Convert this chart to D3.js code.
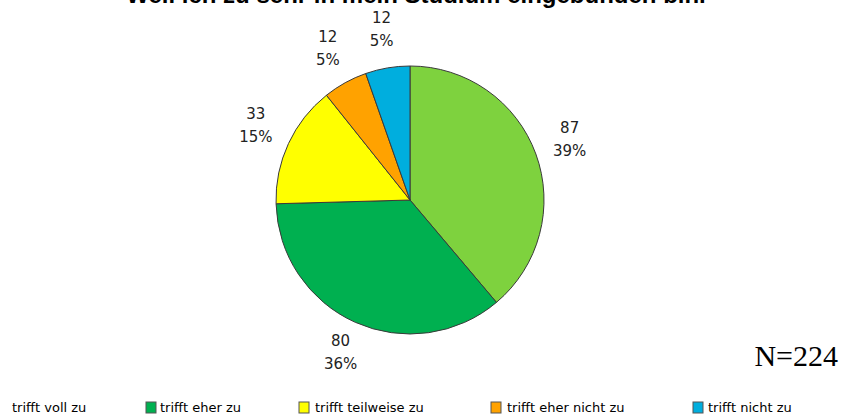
<!DOCTYPE html>
<html>
<head>
<meta charset="utf-8">
<script src="https://cdn.jsdelivr.net/npm/d3@7"></script>
<style>
  html, body { margin: 0; padding: 0; background: #fff; }
  svg { display: block; }
</style>
</head>
<body>
<svg id="chart" width="843" height="417"></svg>
<script>
const title = "Weil ich zu sehr in mein Studium eingebunden bin.";
const categories = ["trifft voll zu", "trifft eher zu", "trifft teilweise zu", "trifft eher nicht zu", "trifft nicht zu"];
const values = [87, 80, 33, 12, 12];
const colors = ["#7ED23E", "#00B050", "#FFFF00", "#FFA200", "#00AEDE"];
const sampleLabel = "N=224";

const svg = d3.select("#chart");
const cx = 410, cy = 200, R = 134;
const total = d3.sum(values);

// Title (cropped at top, as in the reference)
svg.append("text")
  .attr("x", 416).attr("y", 3)
  .attr("text-anchor", "middle")
  .attr("font-family", "Liberation Sans, Arial, sans-serif")
  .attr("font-weight", "bold")
  .attr("font-size", 24)
  .attr("fill", "#000")
  .text(title);

const data = categories.map((c, i) => ({ cat: c, value: values[i], color: colors[i] }));
const pie = d3.pie().sort(null).value(d => d.value).startAngle(0).endAngle(2 * Math.PI);
const arcs = pie(data);
const arc = d3.arc().innerRadius(0).outerRadius(R);
const labelArc = d3.arc().innerRadius(170).outerRadius(170);

const g = svg.append("g").attr("transform", `translate(${cx},${cy})`);
g.selectAll("path.slice").data(arcs).enter().append("path")
  .attr("class", "slice")
  .attr("d", arc)
  .attr("fill", d => d.data.color)
  .attr("stroke", "#3a3a3a")
  .attr("stroke-width", 1);

const pct = d3.format(".0%");
const lab = g.selectAll("g.lab").data(arcs).enter().append("g")
  .attr("class", "lab")
  .attr("transform", d => { const c = labelArc.centroid(d); return `translate(${c[0]},${c[1]})`; })
  .attr("font-family", "DejaVu Sans, Verdana, sans-serif")
  .attr("font-size", 15)
  .attr("fill", "#222")
  .attr("text-anchor", "middle");
lab.append("text").attr("y", -9).text(d => d.data.value);
lab.append("text").attr("y", 14).text(d => pct(d.data.value / total));

// N label
svg.append("text")
  .attr("x", 838).attr("y", 366)
  .attr("text-anchor", "end")
  .attr("font-family", "Liberation Serif, Times New Roman, serif")
  .attr("font-size", 30)
  .attr("fill", "#000")
  .text(sampleLabel);

// Legend
const legendMarkerX = [-12, 146, 299, 491, 693];
const legendTextX = [12, 160, 315, 507, 708];
const legend = svg.append("g").attr("class", "legend");
const items = legend.selectAll("g.item").data(data).enter().append("g").attr("class", "item");
items.append("rect")
  .attr("x", (d, i) => legendMarkerX[i])
  .attr("y", 402)
  .attr("width", 10).attr("height", 11)
  .attr("fill", d => d.color)
  .attr("stroke", "#555")
  .attr("stroke-width", 1);
items.append("text")
  .attr("x", (d, i) => legendTextX[i])
  .attr("y", 412)
  .attr("font-family", "DejaVu Sans, Verdana, sans-serif")
  .attr("font-size", 13)
  .attr("fill", "#000")
  .text(d => d.cat);
</script>
</body>
</html>
